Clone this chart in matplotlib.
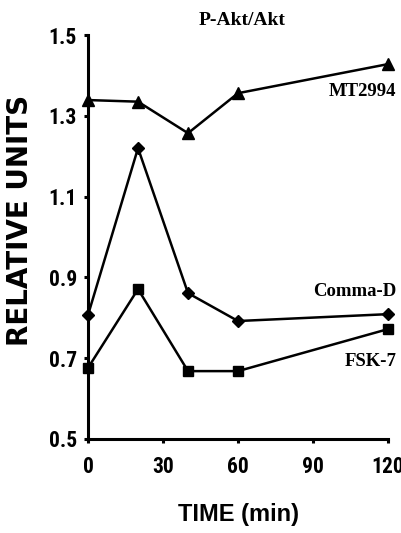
import matplotlib
matplotlib.use('Agg')
import matplotlib.pyplot as plt

time_min = [0, 20, 40, 60, 120]
mt2994 = [1.339, 1.335, 1.257, 1.356, 1.428]
comma_d = [0.807, 1.220, 0.861, 0.792, 0.809]
fsk7 = [0.676, 0.871, 0.668, 0.668, 0.772]

x_ticks = [0, 30, 60, 90, 120]
y_ticks = [0.5, 0.7, 0.9, 1.1, 1.3, 1.5]

cond = 'Roboto Condensed'
serif = 'Liberation Serif'

fig = plt.figure(figsize=(4.01, 5.33), dpi=100)
ax = fig.add_axes([0.2195, 0.1764, 0.7481, 0.7579])

ax.plot(time_min, mt2994, color='black', lw=1.8, marker='^', ms=8, clip_on=False, zorder=3)
ax.plot(time_min, comma_d, color='black', lw=1.8, marker='D', ms=6, clip_on=False, zorder=3)
ax.plot(time_min, fsk7, color='black', lw=1.8, marker='s', ms=6.5, clip_on=False, zorder=3)

ax.set_xlim(0, 120)
ax.set_ylim(0.5, 1.5)
ax.set_xticks(x_ticks)
ax.set_yticks(y_ticks)
ax.set_xticklabels([str(t) for t in x_ticks], family=cond, fontweight='bold', fontsize=15.5)
ax.set_yticklabels(['%.1f' % t for t in y_ticks], family=cond, fontweight='bold', fontsize=15.5)
ax.tick_params(direction='out', length=3, width=2.2)
ax.tick_params(axis='x', pad=9)
ax.tick_params(axis='y', pad=5)

for side in ['top', 'right']:
    ax.spines[side].set_visible(False)
for side in ['left', 'bottom']:
    ax.spines[side].set_linewidth(2.2)

ax.set_xlabel('TIME (min)', family='Liberation Sans', fontweight='bold', fontsize=17)
ax.xaxis.set_label_coords(0.503, -0.158)
ax.set_ylabel('RELATIVE UNITS', family='DejaVu Sans', fontweight='bold', fontsize=20)
ax.yaxis.set_label_coords(-0.18, 0.542)
ax.set_title('P-Akt/Akt', family=serif, fontweight='bold', fontsize=14, pad=7, x=0.512)

ax.text(123.3, 1.361, 'MT2994', family=serif, fontweight='bold', fontsize=13.5, ha='right', va='center')
ax.text(123.3, 0.866, 'Comma-D', family=serif, fontweight='bold', fontsize=13.5, ha='right', va='center')
ax.text(123.3, 0.693, 'FSK-7', family=serif, fontweight='bold', fontsize=13.5, ha='right', va='center')

fig.savefig('out.png', dpi=100)
